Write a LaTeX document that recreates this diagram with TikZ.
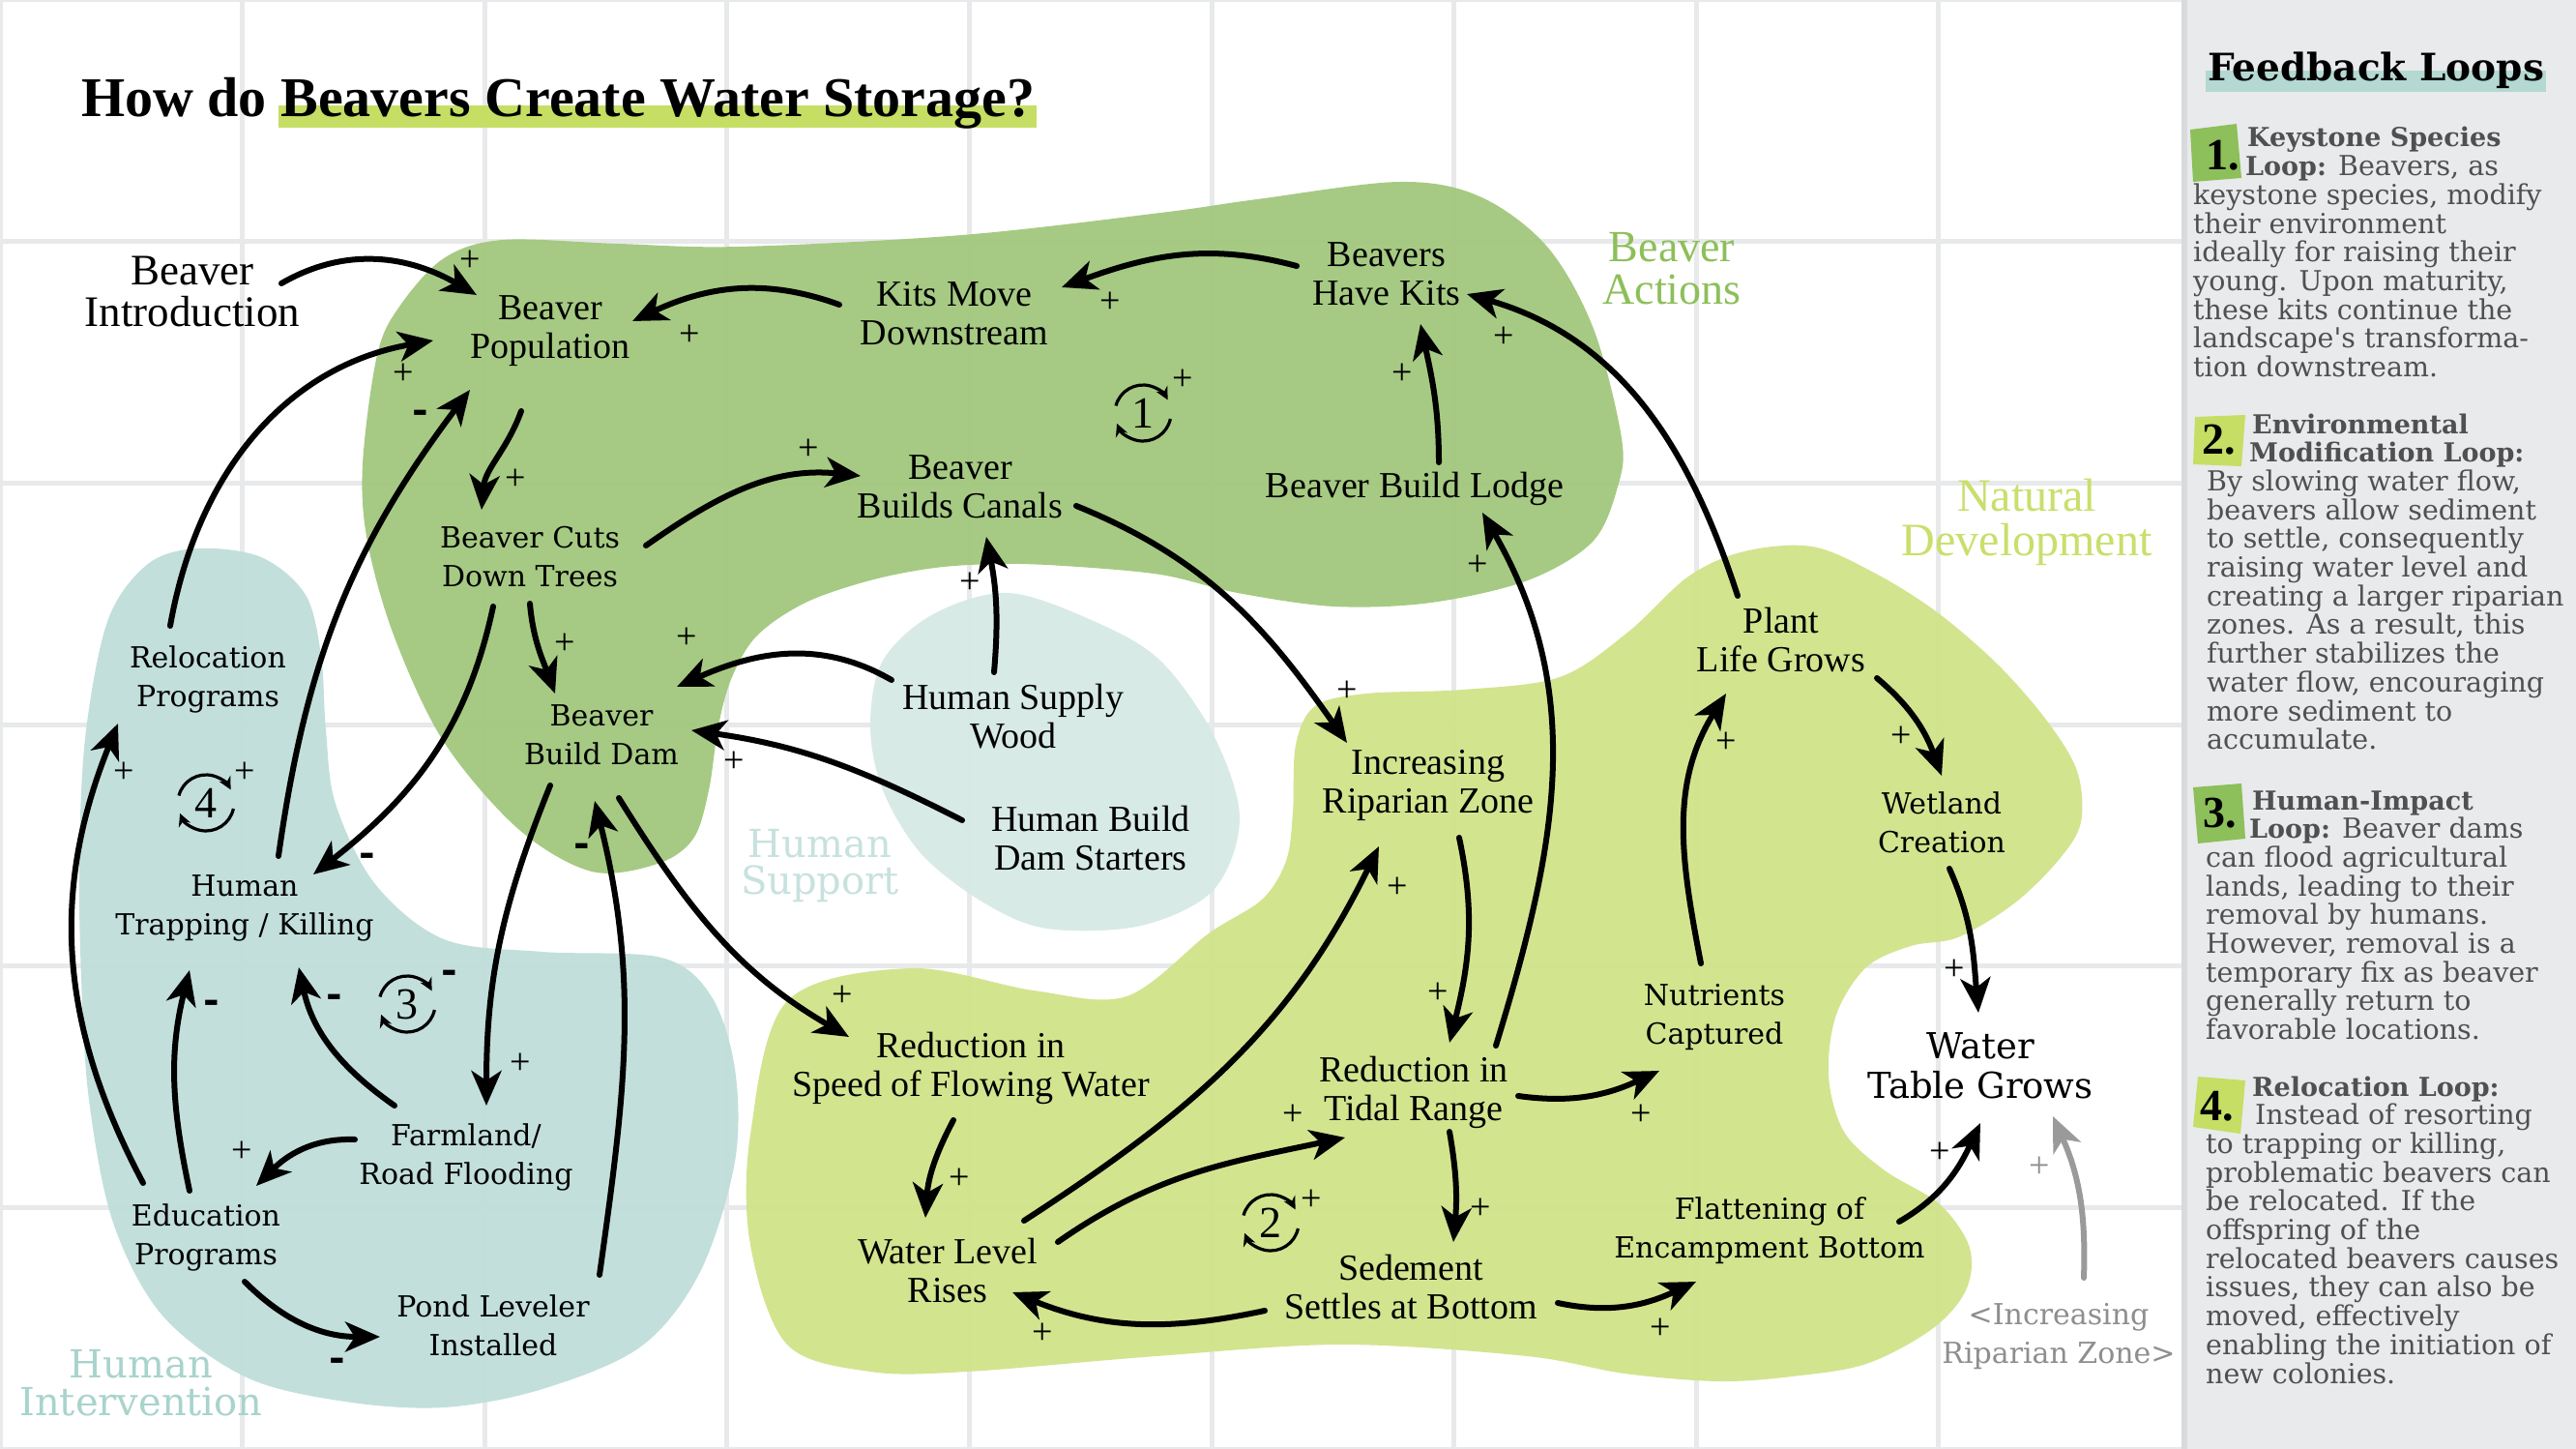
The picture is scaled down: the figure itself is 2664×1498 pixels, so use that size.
\documentclass[tikz,border=0pt]{standalone}
\usepackage{fontspec}
\setmainfont{Liberation Serif}
\newfontfamily\wide{DejaVu Serif}
\usetikzlibrary{arrows.meta}
\definecolor{gdark}{HTML}{A2C87D}
\definecolor{glight}{HTML}{D1E38A}
\definecolor{tealA}{HTML}{BFDEDA}
\definecolor{tealB}{HTML}{D6E9E5}
\definecolor{hlc}{HTML}{C5DE63}
\definecolor{labA}{HTML}{8DBF5A}
\definecolor{labB}{HTML}{C8DF6B}
\definecolor{labC}{HTML}{C7E2DE}
\definecolor{labD}{HTML}{A9D3CD}
\definecolor{sidec}{HTML}{E9EAEC}
\definecolor{sideb}{HTML}{D9DADC}
\definecolor{gridc}{HTML}{E8E9EA}
\definecolor{stext}{HTML}{505050}
\definecolor{fbhl}{HTML}{B4D8D2}
\definecolor{grayt}{HTML}{8E8E8E}
\definecolor{graya}{HTML}{9A9A9A}
\newsavebox\tbox
\newcommand\hlt[4]{\sbox\tbox{#4}\rlap{\hspace*{-2pt}\textcolor{#1}{\rule[-#2]{\dimexpr\wd\tbox+4pt\relax}{#3}}}\usebox\tbox}
\newcommand\bh[1]{{\bfseries\fontsize{27}{29.7}\selectfont #1}}
\begin{document}
\begin{tikzpicture}[x=1pt,y=1pt,
  nn/.style={align=center, inner sep=0pt, font=\fontsize{38}{40}\selectfont},
  wn/.style={align=center, inner sep=0pt, font=\wide\fontsize{30}{40}\selectfont},
  arr/.style={line width=6pt, line cap=round, -{Stealth[length=36pt,width=31pt,inset=10pt]}},
  garr/.style={arr, draw=graya, -{Stealth[length=36pt,width=31pt,inset=10pt,fill=graya]}},
  pl/.style={inner sep=0pt, font=\fontsize{38}{38}\selectfont},
  mi/.style={inner sep=0pt, font=\wide\bfseries\fontsize{40}{40}\selectfont},
  sl/.style={anchor=base west, inner sep=0pt, text=stext, font=\wide\fontsize{28.5}{29.7}\selectfont},
  sbold/.style={sl, font=\wide\bfseries\fontsize{27}{29.7}\selectfont},
  numf/.style={anchor=base west, inner sep=0pt, font=\bfseries\fontsize{46}{46}\selectfont},
  loopn/.style={inner sep=0pt, font=\fontsize{46}{46}\selectfont},
  loopa/.style={line width=3.2pt, -{Stealth[length=13pt,width=13pt]}}
]
\useasboundingbox (0,0) rectangle (2664,-1498);
\fill[white] (0,0) rectangle (2664,-1498);
% grid
\foreach \i in {0,...,8} \draw[gridc, line width=5pt] ({\i*250.6},0) -- ({\i*250.6},-1498);
\foreach \j in {0,...,6} \draw[gridc, line width=5pt] (0,{-\j*249.7}) -- (2256,{-\j*249.7});
% blobs
\fill[gdark, opacity=0.95] plot[smooth cycle, tension=0.55] coordinates {(459,-267) (520,-248) (640,-252) (765,-255) (995,-243) (1200,-220) (1300,-206) (1447,-188) (1530,-203) (1600,-255) (1648,-340) (1677,-453) (1673,-503) (1647,-560) (1580,-600) (1480,-623) (1380,-627) (1280,-613) (1200,-594) (1100,-585) (1033,-583) (967,-587) (900,-600) (833,-623) (783,-657) (757,-700) (743,-750) (733,-817) (717,-867) (680,-893) (612,-901) (536,-857) (459,-767) (408,-659) (380,-560) (375,-480) (390,-367) (413,-317)};
\fill[tealB, opacity=0.95] plot[smooth cycle, tension=0.55] coordinates {(1043,-613) (1133,-643) (1200,-683) (1255,-760) (1282,-846) (1255,-920) (1180,-957) (1083,-960) (1017,-933) (953,-883) (913,-817) (900,-750) (913,-683) (965,-635)};
\fill[tealA, opacity=0.95] plot[smooth cycle, tension=0.55] coordinates {(204,-567) (270,-576) (316,-615) (332,-678) (337,-755) (347,-831) (388,-914) (459,-971) (561,-984) (684,-990) (735,-1029) (760,-1105) (760,-1201) (724,-1315) (663,-1392) (561,-1436) (459,-1455) (357,-1449) (255,-1424) (168,-1360) (117,-1264) (92,-1137) (84,-1010) (82,-882) (89,-755) (112,-640) (153,-583)};
\fill[glight, opacity=0.95] plot[smooth cycle, tension=0.55] coordinates {(776,-1173) (814,-1035) (941,-1001) (1069,-1024) (1165,-1030) (1250,-965) (1305,-930) (1330,-890) (1337,-840) (1340,-770) (1360,-730) (1413,-717) (1513,-713) (1613,-700) (1683,-654) (1746,-596) (1804,-570) (1874,-565) (1938,-592) (2002,-632) (2065,-686) (2116,-744) (2148,-797) (2152,-850) (2129,-889) (2083,-934) (2025,-969) (1976,-978) (1930,-1000) (1899,-1049) (1891,-1112) (1907,-1170) (1949,-1210) (2006,-1245) (2037,-1290) (2033,-1334) (1998,-1374) (1930,-1410) (1853,-1423) (1777,-1428) (1680,-1420) (1579,-1402) (1388,-1390) (1196,-1402) (1000,-1418) (900,-1418) (814,-1390) (776,-1287)};
% sidebar
\fill[sidec] (2256,0) rectangle (2664,-1498);
\draw[sideb, line width=6pt] (2259,0) -- (2259,-1498);
\node[anchor=base, inner sep=0pt, font=\wide\bfseries\fontsize{39}{39}\selectfont] (fbl) at (2457,-84) {\hlt{fbhl}{11pt}{22pt}{Feedback Loops}};
\fill[labA] (2265,-134) -- (2313,-128) -- (2318,-184) -- (2268,-188) -- cycle;
\fill[hlc] (2270,-431) -- (2322,-429) -- (2318,-482) -- (2268,-480) -- cycle;
\fill[labA] (2268,-814) -- (2318,-810) -- (2322,-867) -- (2273,-872) -- cycle;
\fill[hlc] (2273,-1113) -- (2322,-1117) -- (2317,-1172) -- (2268,-1165) -- cycle;
\node[numf] (n1) at (2281,-176) {1.};
\node[numf] (n2) at (2277,-469) {2.};
\node[numf] (n3) at (2278,-855) {3.};
\node[numf] (n4) at (2275,-1158) {4.};
% item 1
\node[sbold] (a1) at (2324,-152) {Keystone Species};
\node[sl] (a2) at (2322,-181.7) {\bh{Loop:} Beavers, as};
\foreach \t [count=\i from 0] in {{keystone species, modify},{their environment},{ideally for raising their},{young. Upon maturity,},{these kits continue the},{landscape's transforma-},{tion downstream.}}
  \node[sl] (ka\i) at (2268,{-211.4-29.7*\i}) {\t};
% item 2
\node[sbold] (b1) at (2329,-448) {Environmental};
\node[sbold] (b2) at (2326,-477.7) {Modification Loop:};
\foreach \t [count=\i from 0] in {{By slowing water flow,},{beavers allow sediment},{to settle, consequently},{raising water level and},{creating a larger riparian},{zones. As a result, this},{further stabilizes the},{water flow, encouraging},{more sediment to},{accumulate.}}
  \node[sl] (kb\i) at (2282,{-507.4-29.7*\i}) {\t};
% item 3
\node[sbold] (c1) at (2329,-837) {Human-Impact};
\node[sl] (c2) at (2326,-866.7) {\bh{Loop:} Beaver dams};
\foreach \t [count=\i from 0] in {{can flood agricultural},{lands, leading to their},{removal by humans.},{However, removal is a},{temporary fix as beaver},{generally return to},{favorable locations.}}
  \node[sl] (kc\i) at (2281,{-896.4-29.7*\i}) {\t};
% item 4
\node[sbold] (d1) at (2329,-1133) {Relocation Loop:};
\node[sl] (d2) at (2332,-1162.7) {Instead of resorting};
\foreach \t [count=\i from 0] in {{to trapping or killing,},{problematic beavers can},{be relocated. If the},{offspring of the},{relocated beavers causes},{issues, they can also be},{moved, effectively},{enabling the initiation of},{new colonies.}}
  \node[sl] (kd\i) at (2281,{-1192.4-29.7*\i}) {\t};
% title
\node[anchor=base west, inner sep=0pt, font=\bfseries\fontsize{58}{58}\selectfont] (title) at (84,-121) {How do \hlt{hlc}{11pt}{23pt}{Beavers Create Water Storage?}};
% region labels
\node[nn, font=\fontsize{46}{44}\selectfont, text=labA] (rBA) at (1729,-278) {Beaver\\Actions};
\node[nn, font=\fontsize{48}{46}\selectfont, text=labB] (rND) at (2096,-540) {Natural\\Development};
\node[wn, font=\wide\fontsize{40}{38}\selectfont, text=labC] (rHS) at (848,-895) {Human\\Support};
\node[wn, font=\wide\fontsize{40}{39}\selectfont, text=labD] (rHI) at (146,-1430) {Human\\Intervention};
% nodes
\node[nn, font=\fontsize{45}{43}\selectfont] (intro) at (199,-301) {Beaver\\Introduction};
\node[nn] (pop) at (569,-342) {Beaver\\Population};
\node[nn] (kits) at (987,-324) {Kits Move\\Downstream};
\node[nn] (havekits) at (1434,-283) {Beavers\\Have Kits};
\node[nn] (canals) at (993,-503) {Beaver\\Builds Canals};
\node[nn] (lodge) at (1463,-505) {Beaver Build Lodge};
\node[wn] (cuts) at (548,-576) {Beaver Cuts\\Down Trees};
\node[wn] (dam) at (622,-760) {Beaver\\Build Dam};
\node[nn] (supply) at (1048,-741) {Human Supply\\Wood};
\node[nn] (starters) at (1128,-866) {Human Build\\Dam Starters};
\node[wn] (reloc) at (215,-702) {Relocation\\Programs};
\node[wn] (trap) at (253,-939) {Human\\Trapping / Killing};
\node[wn] (farm) at (482,-1196) {Farmland/\\Road Flooding};
\node[wn] (edu) at (213,-1279) {Education\\Programs};
\node[wn] (pond) at (510,-1370) {Pond Leveler\\Installed};
\node[nn] (ripar) at (1477,-812) {Increasing\\Riparian Zone};
\node[nn] (plant) at (1842,-661) {Plant\\Life Grows};
\node[wn] (wetland) at (2008,-850) {Wetland\\Creation};
\node[nn] (speed) at (1004,-1104) {Reduction in\\Speed of Flowing Water};
\node[nn] (tidal) at (1462,-1129) {Reduction in\\Tidal Range};
\node[wn] (nutr) at (1773,-1052) {Nutrients\\Captured};
\node[wn, font=\wide\fontsize{37}{41}\selectfont] (wtable) at (2048,-1102) {Water\\Table Grows};
\node[nn] (wlevel) at (980,-1313) {Water Level\\Rises};
\node[nn] (sed) at (1459,-1330) {Sedement\\Settles at Bottom};
\node[wn] (flat) at (1830,-1272) {Flattening of\\Encampment Bottom};
\node[wn, text=grayt] (gripar) at (2129,-1382) {<Increasing\\Riparian Zone>};
% arrows
\draw[arr] ([shift={(92,8)}]intro.center) to[out=30,in=150] ([shift={(-76,37)}]pop.center);
\draw[arr] ([shift={(-119,9)}]kits.center) to[out=160,in=25] ([shift={(85,10)}]pop.center);
\draw[arr] ([shift={(-93,8)}]havekits.center) to[out=165,in=20] ([shift={(111,27)}]kits.center);
\draw[arr] ([shift={(25,27)}]lodge.center) to[out=90,in=-78] ([shift={(35,-52)}]havekits.center);
\draw[arr] ([shift={(-45,45)}]plant.center) to[out=108,in=-16] ([shift={(83,-21)}]havekits.center);
\draw[arr] ([shift={(-30,-83)}]pop.center) to[out=-110,in=85] ([shift={(-50,49)}]cuts.center);
\draw[arr] ([shift={(35,54)}]trap.center) to[out=82,in=-127] ([shift={(-83,-61)}]pop.center);
\draw[arr] ([shift={(-39,55)}]reloc.center) to[out=80,in=190] ([shift={(-121,-10)}]pop.center);
\draw[arr] ([shift={(120,12)}]cuts.center) to[out=35,in=174] ([shift={(-103,11)}]canals.center);
\draw[arr] ([shift={(0,-48)}]cuts.center) to[out=-85,in=110] ([shift={(-48,43)}]dam.center);
\draw[arr] ([shift={(-38,-51)}]cuts.center) to[out=-102,in=38] ([shift={(71,35)}]trap.center);
\draw[arr] ([shift={(-126,38)}]supply.center) to[out=150,in=24] ([shift={(78,50)}]dam.center);
\draw[arr] ([shift={(-20,46)}]supply.center) to[out=85,in=-79] ([shift={(27,-52)}]canals.center);
\draw[arr] ([shift={(-133,18)}]starters.center) to[out=153,in=-8] ([shift={(93,5)}]dam.center);
\draw[arr] ([shift={(120,-20)}]canals.center) to[out=-22,in=125] ([shift={(-84,44)}]ripar.center);
\draw[arr] ([shift={(-53,-52)}]dam.center) to[out=-112,in=90] ([shift={(21,53)}]farm.center);
\draw[arr] ([shift={(110,52)}]pond.center) to[out=82,in=-76] ([shift={(-7,-68)}]dam.center);
\draw[arr] ([shift={(18,-65)}]dam.center) to[out=-58,in=150] ([shift={(-126,32)}]speed.center);
\draw[arr] ([shift={(-74,53)}]farm.center) to[out=145,in=-78] ([shift={(56,-61)}]trap.center);
\draw[arr] ([shift={(-115,18)}]farm.center) to[out=178,in=45] ([shift={(52,53)}]edu.center);
\draw[arr] ([shift={(-17,48)}]edu.center) to[out=102,in=-104] ([shift={(-57,-64)}]trap.center);
\draw[arr] ([shift={(-65,56)}]edu.center) to[out=118,in=-112] ([shift={(-93,-46)}]reloc.center);
\draw[arr] ([shift={(40,-46)}]edu.center) to[out=-45,in=180] ([shift={(-117,-12)}]pond.center);
\draw[arr] ([shift={(-18,-54)}]speed.center) to[out=-118,in=86] ([shift={(-23,54)}]wlevel.center);
\draw[arr] ([shift={(79,51)}]wlevel.center) to[out=33,in=-116] ([shift={(-51,-63)}]ripar.center);
\draw[arr] ([shift={(114,29)}]wlevel.center) to[out=35,in=192] ([shift={(-71,-47)}]tidal.center);
\draw[arr] ([shift={(32,-54)}]ripar.center) to[out=-78,in=76] ([shift={(37,51)}]tidal.center);
\draw[arr] ([shift={(85,48)}]tidal.center) to[out=73,in=-60] ([shift={(70,-25)}]lodge.center);
\draw[arr] ([shift={(108,-4)}]tidal.center) to[out=-8,in=205] ([shift={(-57,-55)}]nutr.center);
\draw[arr] ([shift={(37,-41)}]tidal.center) to[out=-80,in=85] ([shift={(44,46)}]sed.center);
\draw[arr] ([shift={(-151,-25)}]sed.center) to[out=192,in=-22] ([shift={(67,-23)}]wlevel.center);
\draw[arr] ([shift={(152,-17)}]sed.center) to[out=-12,in=205] ([shift={(-76,-53)}]flat.center);
\draw[arr] ([shift={(-14,56)}]nutr.center) to[out=101,in=-122] ([shift={(-57,-56)}]plant.center);
\draw[arr] ([shift={(99,-40)}]plant.center) to[out=-40,in=110] ([shift={(0,48)}]wetland.center);
\draw[arr] ([shift={(8,-48)}]wetland.center) to[out=-66,in=95] ([shift={(-2,55)}]wtable.center);
\draw[arr] ([shift={(134,9)}]flat.center) to[out=30,in=-115] ([shift={(0,-59)}]wtable.center);
\draw[garr] ([shift={(26,61)}]gripar.center) to[out=88,in=-66] ([shift={(75,-52)}]wtable.center);
% polarity signs
\node[pl] (p1) at (486,-270) {+};
\node[pl] (p2) at (713,-347) {+};
\node[pl] (p3) at (1148,-313) {+};
\node[pl] (p4) at (1450,-387) {+};
\node[pl] (p5) at (1555,-349) {+};
\node[pl] (p6) at (533,-496) {+};
\node[mi] (m1) at (435,-431) {-};
\node[pl] (p7) at (417,-387) {+};
\node[pl] (p8) at (836,-465) {+};
\node[pl] (p9) at (584,-666) {+};
\node[mi] (m2) at (380,-889) {-};
\node[pl] (p10) at (710,-660) {+};
\node[pl] (p11) at (1003,-603) {+};
\node[pl] (p12) at (759,-788) {+};
\node[pl] (p13) at (1393,-715) {+};
\node[pl] (p14) at (538,-1100) {+};
\node[mi] (m3) at (602,-879) {-};
\node[pl] (p15) at (871,-1030) {+};
\node[mi] (m4) at (346,-1035) {-};
\node[pl] (p16) at (250,-1191) {+};
\node[mi] (m5) at (219,-1041) {-};
\node[pl] (p17) at (128,-799) {+};
\node[mi] (m6) at (349,-1411) {-};
\node[pl] (p18) at (992,-1219) {+};
\node[pl] (p19) at (1445,-918) {+};
\node[pl] (p20) at (1337,-1153) {+};
\node[pl] (p21) at (1487,-1027) {+};
\node[pl] (p22) at (1528,-585) {+};
\node[pl] (p23) at (1697,-1153) {+};
\node[pl] (p24) at (1531,-1250) {+};
\node[pl] (p25) at (1078,-1379) {+};
\node[pl] (p26) at (1717,-1374) {+};
\node[pl] (p27) at (1785,-768) {+};
\node[pl] (p28) at (1966,-762) {+};
\node[pl] (p29) at (2021,-1003) {+};
\node[pl] (p30) at (2006,-1192) {+};
\node[pl, text=grayt] (p31) at (2109,-1207) {+};
% loops
\foreach \n/\x/\y in {1/1182/427, 2/1314/1264, 3/421/1038, 4/213/830}{
  \node[loopn] (L\n) at (\x,-\y) {\n};
  \draw[loopa] ([shift={(165:29)}]L\n.center) arc[start angle=165, end angle=28, radius=29];
  \draw[loopa] ([shift={(-12:29)}]L\n.center) arc[start angle=-12, end angle=-158, radius=29];
}
\node[pl] (q1) at (1223,-393) {+};
\node[pl] (q2) at (1356,-1241) {+};
\node[mi] (q3) at (465,-1010) {-};
\node[pl] (q4) at (253,-799) {+};
\end{tikzpicture}
\end{document}
